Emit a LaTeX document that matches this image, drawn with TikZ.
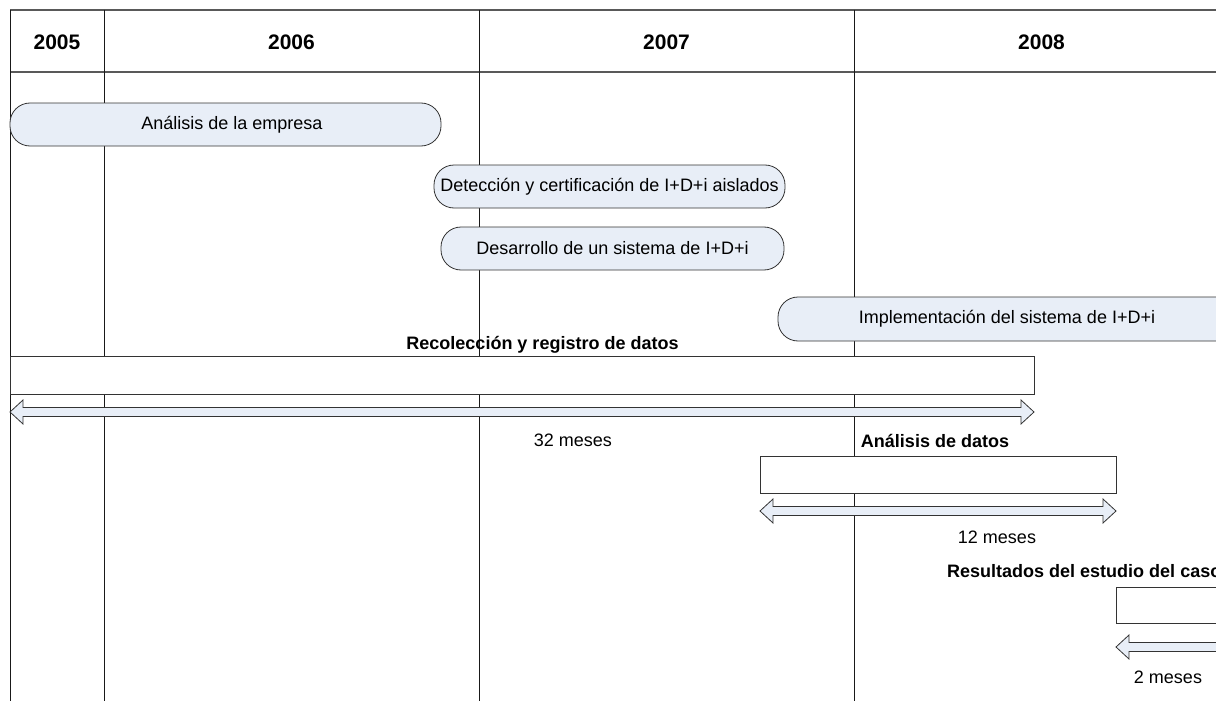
\documentclass[tikz,border=0pt]{standalone}
\usepackage{fontspec}
\setmainfont{Liberation Sans}
\usepackage{xcolor}
\usepackage{tikz}
\usetikzlibrary{calc}

\definecolor{barblue}{RGB}{232,238,247}

% hollow double arrow under a span box
\newcommand\widearrow[2]{%
  \draw[wide] let \p1=(#1), \p2=(#2) in
    (\x1,\y1) -- (\x1+13pt,\y1+12pt) -- (\x1+13pt,\y1+4.5pt)
    -- (\x2-13pt,\y2+4.5pt) -- (\x2-13pt,\y2+12pt) -- (\x2,\y2)
    -- (\x2-13pt,\y2-12pt) -- (\x2-13pt,\y2-4.5pt)
    -- (\x1+13pt,\y1-4.5pt) -- (\x1+13pt,\y1-12pt) -- cycle;}

\begin{document}
\begin{tikzpicture}[x=1pt,y=-1pt,
  grid/.style={line width=0.8pt,black!90},
  hdr/.style={line width=1.1pt,black!65},
  year/.style={font=\fontsize{21}{24}\selectfont\bfseries},
  task/.style={draw=black!80,fill=barblue,rounded corners=20pt,line width=0.8pt,
    minimum height=43pt,inner sep=0pt,outer sep=0pt,font=\fontsize{18}{22}\selectfont},
  spanbox/.style={draw=black!80,fill=white,line width=0.8pt,inner sep=0pt,outer sep=0pt},
  lbl/.style={font=\fontsize{18}{22}\selectfont\bfseries},
  dur/.style={font=\fontsize{18}{22}\selectfont},
  wide/.style={draw=black!80,fill=barblue,line width=0.8pt,line join=miter}]
  \useasboundingbox (0,0) rectangle (1216,701);
  % Year grid
  \draw[hdr] (10,10) -- (1240,10);
  \draw[hdr] (10,72) -- (1240,72);
  \foreach \x in {10,104,479,854}
    \draw[grid] (\x,10) -- (\x,701);
  \node[year] (y2005) at (57,42) {2005};
  \node[year] (y2006) at (291.5,42) {2006};
  \node[year] (y2007) at (666.5,42) {2007};
  \node[year] (y2008) at (1041.5,42) {2008};
  % Phases
  \node[task,minimum width=431pt] (emp) at (225.5,124.5) {\hspace*{13pt}Análisis de la empresa};
  \node[task,minimum width=351pt] (det) at (609.5,186.5) {Detección y certificación de I+D+i aislados};
  \node[task,minimum width=343pt] (des) at (612.5,248.5) {Desarrollo de un sistema de I+D+i};
  \node[task,minimum width=458pt,minimum height=44pt] (imp) at (1007,319) {Implementación del sistema de I+D+i};
  % Data collection
  \node[lbl] (recT) at (542.5,345) {Recolección y registro de datos};
  \node[spanbox,minimum width=1024pt,minimum height=38pt] (rec) at (522,375) {};
  \coordinate (recL) at ([yshift=-18pt]rec.south west);
  \coordinate (recR) at ([yshift=-18pt]rec.south east);
  \widearrow{recL}{recR}
  \node[dur] (recD) at (573,440) {32 meses};
  % Data analysis
  \node[lbl] (anaT) at (935,441) {Análisis de datos};
  \node[spanbox,minimum width=356pt,minimum height=37pt] (ana) at (938,474.5) {};
  \coordinate (anaL) at ([yshift=-18pt]ana.south west);
  \coordinate (anaR) at ([yshift=-18pt]ana.south east);
  \widearrow{anaL}{anaR}
  \node[dur] (anaD) at (997,537) {12 meses};
  % Case results
  \node[lbl,anchor=west,inner sep=0pt] (resT) at (947,571) {Resultados del estudio del caso};
  \node[spanbox,minimum width=116pt,minimum height=36pt] (res) at (1174,605) {};
  \coordinate (resL) at ([yshift=-24pt]res.south west);
  \coordinate (resR) at ([yshift=-24pt]res.south east);
  \widearrow{resL}{resR}
  \node[dur] (resD) at (1168,677) {2 meses};
\end{tikzpicture}
\end{document}
